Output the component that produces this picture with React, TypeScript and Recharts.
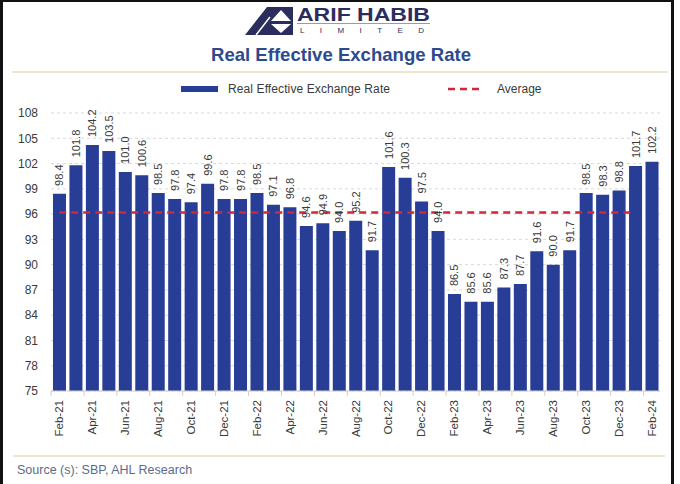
import React from 'react';
import {
  BarChart,
  Bar,
  XAxis,
  YAxis,
  CartesianGrid,
  ReferenceLine,
  LabelList,
} from 'recharts';

const months = [
  'Feb-21', 'Mar-21', 'Apr-21', 'May-21', 'Jun-21', 'Jul-21', 'Aug-21', 'Sep-21', 'Oct-21', 'Nov-21', 'Dec-21', 'Jan-22',
  'Feb-22', 'Mar-22', 'Apr-22', 'May-22', 'Jun-22', 'Jul-22', 'Aug-22', 'Sep-22', 'Oct-22', 'Nov-22', 'Dec-22', 'Jan-23',
  'Feb-23', 'Mar-23', 'Apr-23', 'May-23', 'Jun-23', 'Jul-23', 'Aug-23', 'Sep-23', 'Oct-23', 'Nov-23', 'Dec-23', 'Jan-24',
  'Feb-24',
];

const reer = [
  98.4, 101.8, 104.2, 103.5, 101.0, 100.6, 98.5, 97.8, 97.4, 99.6, 97.8, 97.8,
  98.5, 97.1, 96.8, 94.6, 94.9, 94.0, 95.2, 91.7, 101.6, 100.3, 97.5, 94.0,
  86.5, 85.6, 85.6, 87.3, 87.7, 91.6, 90.0, 91.7, 98.5, 98.3, 98.8, 101.7,
  102.2,
];

const yTicks = [75, 78, 81, 84, 87, 90, 93, 96, 99, 102, 105, 108];

const AVERAGE = 96.2;

const BAR_COLOR = '#283d95';
const AVG_COLOR = '#d4263a';
const TEXT = '#3a3a3a';
const FONT = '"Liberation Sans", Arial, sans-serif';

const data = months.map((m, i) => ({ month: m, reer: reer[i] }));

const ValueLabel = (props: any) => {
  const { x, y, width, value } = props;
  const cx = x + width / 2;
  const cy = y - 8;
  return (
    <text
      x={cx}
      y={cy}
      transform={`rotate(-90, ${cx}, ${cy})`}
      textAnchor="start"
      dominantBaseline="central"
      fontSize={11}
      fontFamily={FONT}
      fill={TEXT}
    >
      {Number(value).toFixed(1)}
    </text>
  );
};

// label every other month, with Excel-style tick marks on the category boundary
const MonthTick = (props: any) => {
  const { x, y, payload } = props;
  const edge = x - 8.2;
  return (
    <g>
      <line x1={edge} y1={391} x2={edge} y2={396} stroke="#d0d0d0" />
      <text
        x={x}
        y={y}
        transform={`rotate(-90, ${x}, ${y})`}
        textAnchor="end"
        dominantBaseline="central"
        fontSize={11.5}
        fontFamily={FONT}
        fill={TEXT}
      >
        {payload.value}
      </text>
    </g>
  );
};

function Logo() {
  return (
    <g>
      <polygon points="245,35 267,7 293,7 293,35" fill="#2b2d5c" />
      <line x1="256" y1="35" x2="270" y2="17" stroke="#fff" strokeWidth="1.5" />
      <polygon points="271,21 291,21 281,10" fill="#fff" />
      <polygon points="271,24 291,24 281,33" fill="#fff" />
      <text
        x={297}
        y={21}
        fontSize={19}
        fontWeight="bold"
        fontFamily={FONT}
        fill="#2b2d5c"
        textLength={133}
        lengthAdjust="spacingAndGlyphs"
      >
        ARIF HABIB
      </text>
      <line x1="297" y1="23.5" x2="430" y2="23.5" stroke="#9a9aa8" strokeWidth="1" />
      <text x={300} y={33} fontSize={8} fontFamily={FONT} fill="#2b2d5c" textLength={124}>
        LIMITED
      </text>
    </g>
  );
}

export default function App() {
  return (
    <div
      style={{
        position: 'absolute',
        left: 0,
        top: 0,
        width: 680,
        height: 484,
        background: '#ffffff',
        overflow: 'hidden',
      }}
    >
      <svg
        width={680}
        height={484}
        style={{ position: 'absolute', left: 0, top: 0 }}
      >
        <rect x={0} y={0} width={3} height={484} fill="#111" />
        <rect x={0} y={0} width={674} height={2} fill="#111" />
        <rect x={671} y={0} width={3} height={484} fill="#111" />

        <Logo />

        <text
          x={341}
          y={61}
          textAnchor="middle"
          fontSize={19}
          fontWeight="bold"
          fontFamily={FONT}
          fill="#2c4a8f"
          textLength={260}
          lengthAdjust="spacingAndGlyphs"
        >
          Real Effective Exchange Rate
        </text>
        <line x1="12" y1="72" x2="668" y2="72" stroke="#e6dfbd" strokeWidth="1.5" />

        {/* legend */}
        <rect x={181} y={86} width={37} height={6} fill={BAR_COLOR} />
        <text x={228} y={93} fontSize={12} fontFamily={FONT} fill={TEXT} textLength={162}>
          Real Effective Exchange Rate
        </text>
        <line
          x1="448"
          y1="89"
          x2="484"
          y2="89"
          stroke={AVG_COLOR}
          strokeWidth="2.5"
          strokeDasharray="7 5"
        />
        <text x={497} y={93} fontSize={12} fontFamily={FONT} fill={TEXT}>
          Average
        </text>

        <line x1="13" y1="456" x2="665" y2="456" stroke="#e6dfbd" strokeWidth="1.5" />
        <text x={17} y={474} fontSize={12.5} fontFamily={FONT} fill="#5b6b8c">
          Source (s): SBP, AHL Research
        </text>
      </svg>

      <div style={{ position: 'absolute', left: 0, top: 0 }}>
        <BarChart
          width={680}
          height={484}
          data={data}
          margin={{ top: 113, right: 20, bottom: 43, left: 11 }}
          barCategoryGap="12%"
        >
          <CartesianGrid
            vertical={false}
            stroke="#d9d9d9"
            strokeDasharray="3 3"
          />
          <XAxis
            dataKey="month"
            interval={1}
            height={50}
            tick={<MonthTick />}
            tickLine={false}
            tickSize={0}
            tickMargin={9}
            axisLine={{ stroke: '#d0d0d0' }}
          />
          <YAxis
            type="number"
            domain={[75, 108]}
            ticks={yTicks}
            width={40}
            tickLine={false}
            axisLine={false}
            tickSize={0}
            tickMargin={13}
            tick={{ fontSize: 12, fill: TEXT, fontFamily: FONT }}
          />
          <Bar dataKey="reer" fill={BAR_COLOR} isAnimationActive={false}>
            <LabelList dataKey="reer" content={<ValueLabel />} />
          </Bar>
          <ReferenceLine
            segment={[
              { x: months[0], y: AVERAGE },
              { x: months[months.length - 2], y: AVERAGE },
            ]}
            stroke={AVG_COLOR}
            strokeWidth={2.5}
            strokeDasharray="7 5"
          />
        </BarChart>
      </div>
    </div>
  );
}
